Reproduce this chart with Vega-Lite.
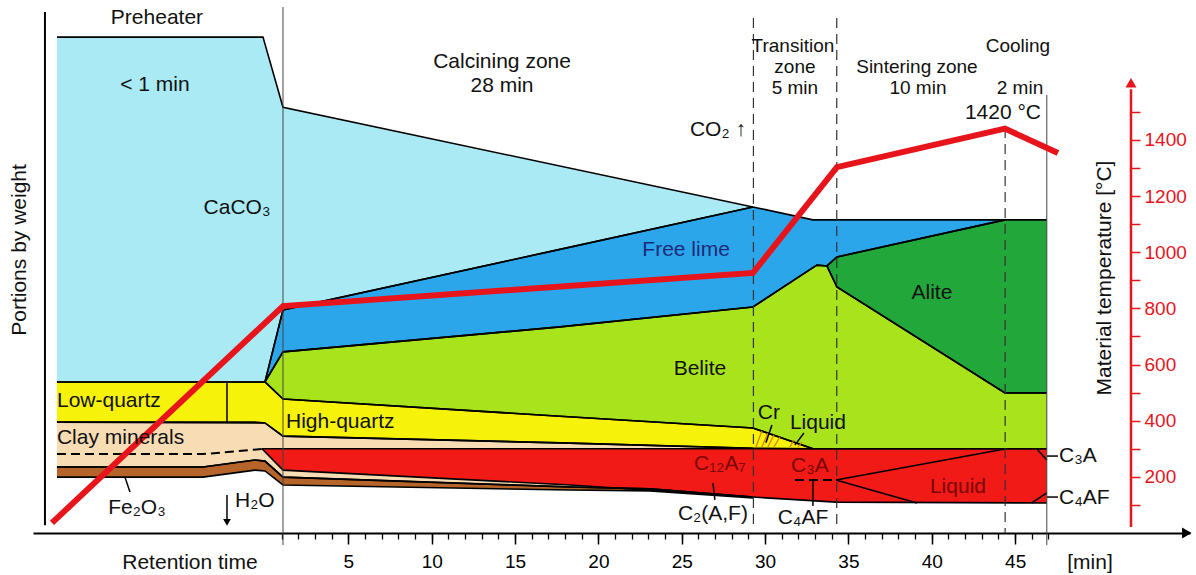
{
  "$schema": "https://vega.github.io/schema/vega-lite/v6.json",
  "width": 1157,
  "height": 533,
  "autosize": {"type": "none"},
  "padding": {"left": 33, "top": 0, "right": 6, "bottom": 42},
  "background": "white",
  "config": {
    "view": {"stroke": null},
    "text": {"font": "Liberation Sans", "fontSize": 21},
    "axis": {"grid": false, "labelFont": "Liberation Sans"}
  },
  "resolve": {"axis": {"x": "independent", "y": "independent"}},
  "datasets": {
    "beige": [
      {"r": "Clay", "t": -12.48, "v": 395, "v2": 235},
      {"r": "Clay", "t": -3.72, "v": 395, "v2": 235},
      {"r": "Clay", "t": -0.6, "v": 395, "v2": 260},
      {"r": "Clay", "t": 0, "v": 392, "v2": 256},
      {"r": "Clay", "t": 1.08, "v": 345, "v2": 199},
      {"r": "Clay", "t": 17.7, "v": 321, "v2": 165},
      {"r": "Clay", "t": 18.3, "v": 320, "v2": 164},
      {"r": "Clay", "t": 23.1, "v": 312, "v2": 157},
      {"r": "Clay", "t": 29.27, "v": 302, "v2": 128}
    ],
    "regions": [
      {"r": "CaCO3", "t": -12.48, "v": 1766, "v2": 538},
      {"r": "CaCO3", "t": -0.12, "v": 1766, "v2": 538},
      {"r": "CaCO3", "t": 0, "v": 1741, "v2": 538},
      {"r": "CaCO3", "t": 1.08, "v": 1516, "v2": 794},
      {"r": "CaCO3", "t": 29.27, "v": 1161, "v2": 1161},
      {"r": "Free lime", "t": 0, "v": 538, "v2": 538},
      {"r": "Free lime", "t": 1.08, "v": 794, "v2": 645},
      {"r": "Free lime", "t": 17.7, "v": 1010, "v2": 734},
      {"r": "Free lime", "t": 29.27, "v": 1161, "v2": 805},
      {"r": "Free lime", "t": 32.87, "v": 1115, "v2": 945},
      {"r": "Free lime", "t": 33.11, "v": 1115, "v2": 954},
      {"r": "Free lime", "t": 33.71, "v": 1115, "v2": 951},
      {"r": "Free lime", "t": 34.31, "v": 1115, "v2": 983},
      {"r": "Free lime", "t": 44.39, "v": 1115, "v2": 1115},
      {"r": "Belite", "t": 0, "v": 538, "v2": 538},
      {"r": "Belite", "t": 1.08, "v": 645, "v2": 477},
      {"r": "Belite", "t": 17.7, "v": 734, "v2": 416},
      {"r": "Belite", "t": 29.27, "v": 805, "v2": 374},
      {"r": "Belite", "t": 32.87, "v": 945, "v2": 300},
      {"r": "Belite", "t": 33.11, "v": 954, "v2": 300},
      {"r": "Belite", "t": 33.71, "v": 951, "v2": 300},
      {"r": "Belite", "t": 34.31, "v": 876, "v2": 300},
      {"r": "Belite", "t": 44.39, "v": 499, "v2": 300},
      {"r": "Belite", "t": 46.9, "v": 499, "v2": 300},
      {"r": "Alite", "t": 33.71, "v": 951, "v2": 951},
      {"r": "Alite", "t": 34.31, "v": 983, "v2": 876},
      {"r": "Alite", "t": 44.39, "v": 1115, "v2": 499},
      {"r": "Alite", "t": 46.9, "v": 1115, "v2": 499},
      {"r": "Quartz", "t": -12.48, "v": 538, "v2": 395},
      {"r": "Quartz", "t": 0, "v": 538, "v2": 392},
      {"r": "Quartz", "t": 1.08, "v": 477, "v2": 345},
      {"r": "Quartz", "t": 17.7, "v": 416, "v2": 321},
      {"r": "Quartz", "t": 29.27, "v": 374, "v2": 302},
      {"r": "Quartz", "t": 32.87, "v": 300, "v2": 300},
      {"r": "Fe2O3", "t": -12.48, "v": 235, "v2": 199},
      {"r": "Fe2O3", "t": -3.72, "v": 235, "v2": 199},
      {"r": "Fe2O3", "t": -0.6, "v": 260, "v2": 224},
      {"r": "Fe2O3", "t": 0, "v": 256, "v2": 221},
      {"r": "Fe2O3", "t": 1.08, "v": 199, "v2": 171},
      {"r": "Fe2O3", "t": 18.3, "v": 164, "v2": 153},
      {"r": "Fe2O3", "t": 23.1, "v": 157, "v2": 150},
      {"r": "Fe2O3", "t": 29.27, "v": 128, "v2": 125},
      {"r": "Melt", "t": -0.18, "v": 300, "v2": 300},
      {"r": "Melt", "t": 1.08, "v": 300, "v2": 224},
      {"r": "Melt", "t": 18.3, "v": 300, "v2": 171},
      {"r": "Melt", "t": 29.27, "v": 300, "v2": 128},
      {"r": "Melt", "t": 34.25, "v": 300, "v2": 110},
      {"r": "Melt", "t": 46.9, "v": 300, "v2": 107}
    ],
    "hatch": [
      {"id": "h1", "i": 0, "t": 29.45, "v": 306}, {"id": "h1", "i": 1, "t": 29.81, "v": 363},
      {"id": "h2", "i": 0, "t": 29.81, "v": 306}, {"id": "h2", "i": 1, "t": 30.17, "v": 356},
      {"id": "h3", "i": 0, "t": 30.17, "v": 306}, {"id": "h3", "i": 1, "t": 30.53, "v": 349},
      {"id": "h4", "i": 0, "t": 30.53, "v": 306}, {"id": "h4", "i": 1, "t": 30.89, "v": 342},
      {"id": "h5", "i": 0, "t": 31.49, "v": 306}, {"id": "h5", "i": 1, "t": 31.73, "v": 331},
      {"id": "h6", "i": 0, "t": 31.97, "v": 306}, {"id": "h6", "i": 1, "t": 32.21, "v": 324}
    ],
    "dashed": [
      {"id": "clay", "i": 0, "t": -12.48, "v": 281},
      {"id": "clay", "i": 1, "t": -3.72, "v": 281},
      {"id": "clay", "i": 2, "t": -0.18, "v": 299},
      {"id": "melt", "i": 0, "t": 31.79, "v": 189},
      {"id": "melt", "i": 1, "t": 34.25, "v": 189}
    ],
    "lines": [
      {"id": "divider", "i": 0, "t": -2.28, "v": 538}, {"id": "divider", "i": 1, "t": -2.28, "v": 395},
      {"id": "c3a_up", "i": 0, "t": 34.25, "v": 189}, {"id": "c3a_up", "i": 1, "t": 44.39, "v": 299},
      {"id": "c4af_low", "i": 0, "t": 34.25, "v": 189}, {"id": "c4af_low", "i": 1, "t": 39.11, "v": 107},
      {"id": "c3a_r", "i": 0, "t": 46.31, "v": 299}, {"id": "c3a_r", "i": 1, "t": 46.9, "v": 260},
      {"id": "c4af_r", "i": 0, "t": 46.0, "v": 107}, {"id": "c4af_r", "i": 1, "t": 46.9, "v": 143},
      {"id": "lead_fe", "i": 0, "t": -8.4, "v": 199}, {"id": "lead_fe", "i": 1, "t": -8.1, "v": 146},
      {"id": "lead_c2", "i": 0, "t": 26.87, "v": 178}, {"id": "lead_c2", "i": 1, "t": 26.99, "v": 118},
      {"id": "lead_c4", "i": 0, "t": 32.87, "v": 189}, {"id": "lead_c4", "i": 1, "t": 32.87, "v": 96},
      {"id": "lead_cr", "i": 0, "t": 30.41, "v": 385}, {"id": "lead_cr", "i": 1, "t": 30.05, "v": 321},
      {"id": "lead_liq", "i": 0, "t": 32.33, "v": 356}, {"id": "lead_liq", "i": 1, "t": 31.79, "v": 313},
      {"id": "lead_c3a_r", "i": 0, "t": 46.91, "v": 274}, {"id": "lead_c3a_r", "i": 1, "t": 47.57, "v": 274},
      {"id": "lead_c4af_r", "i": 0, "t": 46.91, "v": 128}, {"id": "lead_c4af_r", "i": 1, "t": 47.57, "v": 128},
      {"id": "h2o", "i": 0, "t": -2.28, "v": 135}, {"id": "h2o", "i": 1, "t": -2.28, "v": 50}
    ],
    "vsolid": [
      {"t": 1.08, "v": 1873, "v2": -43},
      {"t": 46.9, "v": 1560, "v2": -43}
    ],
    "vdash": [
      {"t": 29.3, "v": 1834, "v2": 11},
      {"t": 34.3, "v": 1834, "v2": 11},
      {"t": 44.4, "v": 1442, "v2": 0}
    ],
    "frame": [
      {"t": -13.2, "v": 28, "v2": 1855}
    ],
    "redaxis": [
      {"t": 51.95, "v": 21, "v2": 1580}
    ],
    "temp": [
      {"t": -12.78, "v": 36},
      {"t": 1.08, "v": 808},
      {"t": 29.27, "v": 926},
      {"t": 34.31, "v": 1303},
      {"t": 44.39, "v": 1440},
      {"t": 47.57, "v": 1353}
    ],
    "arrow_up": [{"t": 51.95, "v": 1603}],
    "arrow_right": [{"t": 55.3, "v": 0}],
    "arrow_down": [{"t": -2.28, "v": 38}],
    "txt_zone": [
      {"label": "Transition", "t": 31.67, "v": 1734},
      {"label": "zone", "t": 31.79, "v": 1660},
      {"label": "5 min", "t": 31.79, "v": 1585},
      {"label": "Sintering zone", "t": 39.11, "v": 1660},
      {"label": "10 min", "t": 39.17, "v": 1585},
      {"label": "Cooling", "t": 45.17, "v": 1734},
      {"label": "2 min", "t": 45.29, "v": 1585}
    ],
    "txt_black": [
      {"label": "Preheater", "t": -6.48, "v": 1834},
      {"label": "< 1 min", "t": -6.6, "v": 1595},
      {"label": "CaCO₃", "t": -1.68, "v": 1157},
      {"label": "Calcining zone", "t": 14.22, "v": 1677},
      {"label": "28 min", "t": 14.22, "v": 1592},
      {"label": "1420 °C", "t": 44.27, "v": 1496},
      {"label": "CO₂ ↑", "t": 27.17, "v": 1435},
      {"label": "Alite", "t": 40.01, "v": 855},
      {"label": "Belite", "t": 26.09, "v": 584},
      {"label": "Cr", "t": 30.23, "v": 427},
      {"label": "Liquid", "t": 33.17, "v": 392},
      {"label": "C₂(A,F)", "t": 26.87, "v": 68},
      {"label": "C₄AF", "t": 32.27, "v": 53},
      {"label": "Fe₂O₃", "t": -7.68, "v": 89},
      {"label": "Retention time", "t": -4.5, "v": -107},
      {"label": "[min]", "t": 49.49, "v": -107}
    ],
    "txt_left": [
      {"label": "Low-quartz", "t": -12.48, "v": 470},
      {"label": "Clay minerals", "t": -12.48, "v": 338},
      {"label": "High-quartz", "t": 1.26, "v": 395},
      {"label": "H₂O", "t": -1.8, "v": 114},
      {"label": "C₃A", "t": 47.63, "v": 274},
      {"label": "C₄AF", "t": 47.63, "v": 125}
    ],
    "txt_red": [
      {"label": "C₁₂A₇", "t": 27.29, "v": 246},
      {"label": "C₃A", "t": 32.69, "v": 239},
      {"label": "Liquid", "t": 41.57, "v": 164}
    ],
    "txt_navy": [
      {"label": "Free lime", "t": 25.26, "v": 1008}
    ],
    "txt_rot": [
      {"label": "Portions by weight", "t": -14.7, "v": 1008},
      {"label": "Material temperature [°C]", "t": 50.39, "v": 908}
    ]
  },
  "layer": [
    {
      "data": {"name": "beige"},
      "mark": {"type": "area", "color": "#f7dcb4"},
      "encoding": {
        "x": {
          "field": "t", "type": "quantitative",
          "scale": {"domain": [-13.917, 55.49], "nice": false, "zero": false},
          "axis": {
            "orient": "bottom", "values": [5, 10, 15, 20, 25, 30, 35, 40, 45], "title": null,
            "domainColor": "black", "domainWidth": 2, "tickColor": "black", "tickWidth": 1.5,
            "tickSize": 11, "labelFontSize": 19, "labelColor": "black", "labelPadding": 8,
            "labelFlush": false, "labelOverlap": false
          }
        },
        "y": {
          "field": "v", "type": "quantitative", "stack": null,
          "scale": {"domain": [0, 1898.1], "nice": false, "zero": false},
          "axis": {
            "orient": "right", "offset": -59,
            "values": [100, 200, 300, 400, 500, 600, 700, 800, 900, 1000, 1100, 1200, 1300, 1400, 1500],
            "format": "d",
            "labelExpr": "datum.value % 200 == 0 && datum.value <= 1400 ? datum.label : ''",
            "domain": false, "title": null, "tickColor": "#e8141c", "tickWidth": 1.5, "tickSize": 9,
            "labelColor": "#e8141c", "labelFontSize": 19, "labelPadding": 4, "labelOverlap": false
          }
        },
        "y2": {"field": "v2"}
      }
    },
    {
      "data": {"name": "regions"},
      "mark": {"type": "area", "opacity": 1},
      "encoding": {
        "x": {
          "field": "t", "type": "quantitative",
          "axis": {
            "orient": "bottom", "values": [1,2,3,4,5,6,7,8,9,10,11,12,13,14,15,16,17,18,19,20,21,22,23,24,25,26,27,28,29,30,31,32,33,34,35,36,37,38,39,40,41,42,43,44,45,46,47],
            "title": null, "domain": false, "labels": false, "tickColor": "black", "tickWidth": 1.3, "tickSize": 6
          }
        },
        "y": {"field": "v", "type": "quantitative", "stack": null, "axis": null},
        "y2": {"field": "v2"},
        "color": {
          "field": "r", "type": "nominal", "legend": null,
          "scale": {
            "domain": ["CaCO3", "Free lime", "Belite", "Alite", "Quartz", "Fe2O3", "Melt"],
            "range": ["#aaeaf5", "#2ba6ea", "#a8e31c", "#22a83a", "#f7f20a", "#b5652a", "#f21a16"]
          }
        }
      }
    },
    {
      "data": {"name": "beige"},
      "mark": {"type": "line", "color": "black", "strokeWidth": 1.6},
      "encoding": {
        "x": {"field": "t", "type": "quantitative", "axis": null},
        "y": {"field": "v", "type": "quantitative", "axis": null},
        "detail": {"field": "r"}
      }
    },
    {
      "data": {"name": "beige"},
      "mark": {"type": "line", "color": "black", "strokeWidth": 1.6},
      "encoding": {
        "x": {"field": "t", "type": "quantitative", "axis": null},
        "y": {"field": "v2", "type": "quantitative", "axis": null},
        "detail": {"field": "r"}
      }
    },
    {
      "data": {"name": "regions"},
      "mark": {"type": "line", "color": "black", "strokeWidth": 1.6},
      "encoding": {
        "x": {"field": "t", "type": "quantitative", "axis": null},
        "y": {"field": "v", "type": "quantitative", "axis": null},
        "detail": {"field": "r"}
      }
    },
    {
      "data": {"name": "regions"},
      "mark": {"type": "line", "color": "black", "strokeWidth": 1.6},
      "encoding": {
        "x": {"field": "t", "type": "quantitative", "axis": null},
        "y": {"field": "v2", "type": "quantitative", "axis": null},
        "detail": {"field": "r"}
      }
    },
    {
      "data": {"name": "hatch"},
      "mark": {"type": "line", "color": "#e07a00", "strokeWidth": 1.2},
      "encoding": {
        "x": {"field": "t", "type": "quantitative", "axis": null},
        "y": {"field": "v", "type": "quantitative", "axis": null},
        "detail": {"field": "id"},
        "order": {"field": "i"}
      }
    },
    {
      "data": {"name": "dashed"},
      "mark": {"type": "line", "color": "black", "strokeWidth": 2, "strokeDash": [9, 5]},
      "encoding": {
        "x": {"field": "t", "type": "quantitative", "axis": null},
        "y": {"field": "v", "type": "quantitative", "axis": null},
        "detail": {"field": "id"},
        "order": {"field": "i"}
      }
    },
    {
      "data": {"name": "lines"},
      "mark": {"type": "line", "color": "black", "strokeWidth": 1.5},
      "encoding": {
        "x": {"field": "t", "type": "quantitative", "axis": null},
        "y": {"field": "v", "type": "quantitative", "axis": null},
        "detail": {"field": "id"},
        "order": {"field": "i"}
      }
    },
    {
      "data": {"name": "vsolid"},
      "mark": {"type": "rule", "color": "#444", "strokeWidth": 1},
      "encoding": {
        "x": {"field": "t", "type": "quantitative", "axis": null},
        "y": {"field": "v", "type": "quantitative", "axis": null},
        "y2": {"field": "v2"}
      }
    },
    {
      "data": {"name": "vdash"},
      "mark": {"type": "rule", "color": "#333", "strokeWidth": 1.2, "strokeDash": [10, 6]},
      "encoding": {
        "x": {"field": "t", "type": "quantitative", "axis": null},
        "y": {"field": "v", "type": "quantitative", "axis": null},
        "y2": {"field": "v2"}
      }
    },
    {
      "data": {"name": "frame"},
      "mark": {"type": "rule", "color": "black", "strokeWidth": 2},
      "encoding": {
        "x": {"field": "t", "type": "quantitative", "axis": null},
        "y": {"field": "v", "type": "quantitative", "axis": null},
        "y2": {"field": "v2"}
      }
    },
    {
      "data": {"name": "redaxis"},
      "mark": {"type": "rule", "color": "#e8141c", "strokeWidth": 2.5},
      "encoding": {
        "x": {"field": "t", "type": "quantitative", "axis": null},
        "y": {"field": "v", "type": "quantitative", "axis": null},
        "y2": {"field": "v2"}
      }
    },
    {
      "data": {"name": "temp"},
      "mark": {"type": "line", "color": "#e8141c", "strokeWidth": 6, "strokeJoin": "miter"},
      "encoding": {
        "x": {"field": "t", "type": "quantitative", "axis": null},
        "y": {"field": "v", "type": "quantitative", "axis": null}
      }
    },
    {
      "data": {"name": "arrow_up"},
      "mark": {"type": "point", "shape": "triangle-up", "filled": true, "color": "#e8141c", "size": 120, "opacity": 1},
      "encoding": {
        "x": {"field": "t", "type": "quantitative", "axis": null},
        "y": {"field": "v", "type": "quantitative", "axis": null}
      }
    },
    {
      "data": {"name": "arrow_right"},
      "mark": {"type": "point", "shape": "triangle-right", "filled": true, "color": "black", "size": 120, "opacity": 1},
      "encoding": {
        "x": {"field": "t", "type": "quantitative", "axis": null},
        "y": {"field": "v", "type": "quantitative", "axis": null}
      }
    },
    {
      "data": {"name": "arrow_down"},
      "mark": {"type": "point", "shape": "triangle-down", "filled": true, "color": "black", "size": 60, "opacity": 1},
      "encoding": {
        "x": {"field": "t", "type": "quantitative", "axis": null},
        "y": {"field": "v", "type": "quantitative", "axis": null}
      }
    },
    {
      "data": {"name": "txt_zone"},
      "mark": {"type": "text", "color": "#111", "fontSize": 19, "font": "Liberation Sans"},
      "encoding": {
        "x": {"field": "t", "type": "quantitative", "axis": null},
        "y": {"field": "v", "type": "quantitative", "axis": null},
        "text": {"field": "label"}
      }
    },
    {
      "data": {"name": "txt_black"},
      "mark": {"type": "text", "color": "#111", "fontSize": 21, "font": "Liberation Sans"},
      "encoding": {
        "x": {"field": "t", "type": "quantitative", "axis": null},
        "y": {"field": "v", "type": "quantitative", "axis": null},
        "text": {"field": "label"}
      }
    },
    {
      "data": {"name": "txt_left"},
      "mark": {"type": "text", "color": "#111", "fontSize": 21, "font": "Liberation Sans", "align": "left"},
      "encoding": {
        "x": {"field": "t", "type": "quantitative", "axis": null},
        "y": {"field": "v", "type": "quantitative", "axis": null},
        "text": {"field": "label"}
      }
    },
    {
      "data": {"name": "txt_red"},
      "mark": {"type": "text", "color": "#7a0606", "fontSize": 21, "font": "Liberation Sans"},
      "encoding": {
        "x": {"field": "t", "type": "quantitative", "axis": null},
        "y": {"field": "v", "type": "quantitative", "axis": null},
        "text": {"field": "label"}
      }
    },
    {
      "data": {"name": "txt_navy"},
      "mark": {"type": "text", "color": "#1a2a7a", "fontSize": 21, "font": "Liberation Sans"},
      "encoding": {
        "x": {"field": "t", "type": "quantitative", "axis": null},
        "y": {"field": "v", "type": "quantitative", "axis": null},
        "text": {"field": "label"}
      }
    },
    {
      "data": {"name": "txt_rot"},
      "mark": {"type": "text", "color": "#111", "fontSize": 21, "font": "Liberation Sans", "angle": 270},
      "encoding": {
        "x": {"field": "t", "type": "quantitative", "axis": null},
        "y": {"field": "v", "type": "quantitative", "axis": null},
        "text": {"field": "label"}
      }
    }
  ]
}
